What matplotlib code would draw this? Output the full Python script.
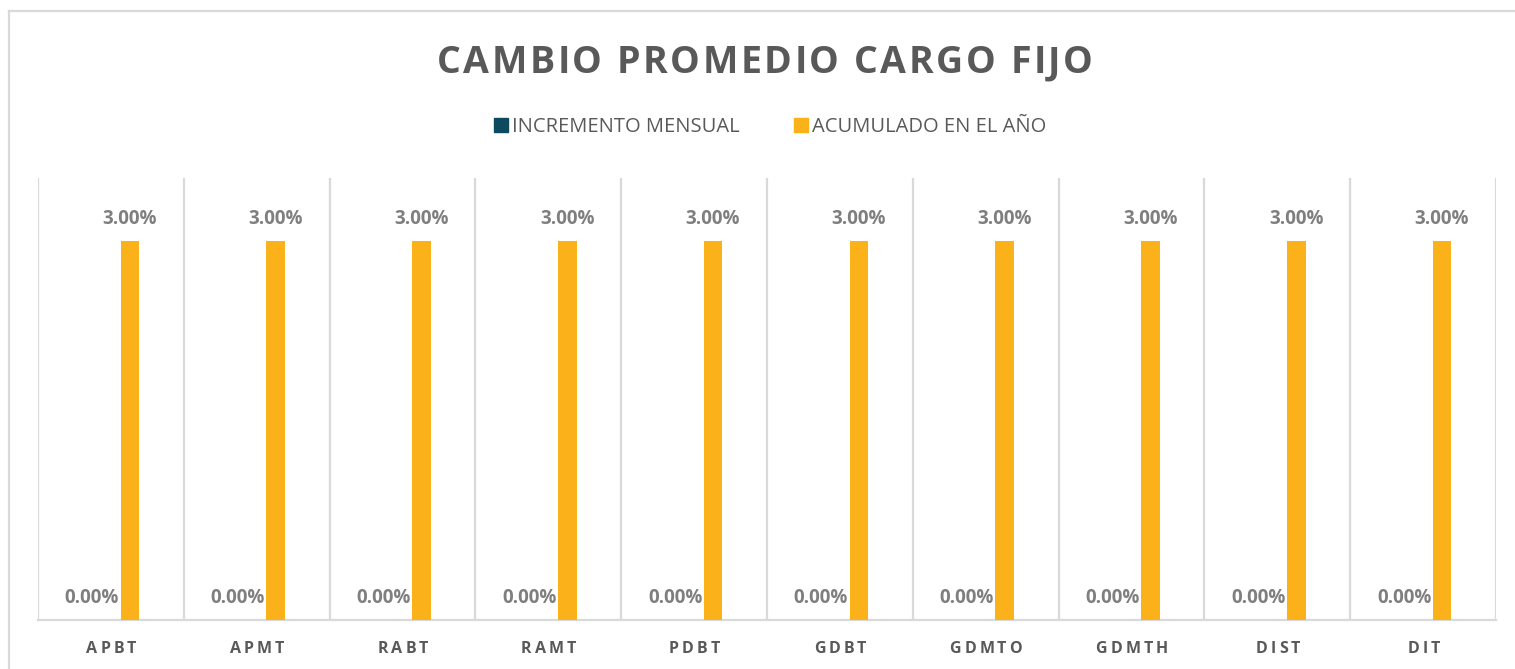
import matplotlib
matplotlib.use("Agg")
import matplotlib.pyplot as plt
from matplotlib.font_manager import FontProperties
from matplotlib.textpath import TextToPath
from matplotlib.patches import Patch
from matplotlib.lines import Line2D
import numpy as np

# ---- data ----
categories = ["APBT", "APMT", "RABT", "RAMT", "PDBT", "GDBT", "GDMTO", "GDMTH", "DIST", "DIT"]
incremento_mensual = [0.0, 0.0, 0.0, 0.0, 0.0, 0.0, 0.0, 0.0, 0.0, 0.0]
acumulado_anio = [3.0, 3.0, 3.0, 3.0, 3.0, 3.0, 3.0, 3.0, 3.0, 3.0]
series_names = ["INCREMENTO MENSUAL", "ACUMULADO EN EL AÑO"]
title_text = "CAMBIO PROMEDIO CARGO FIJO"

# ---- style ----
W, H, DPI = 1515, 669, 100
BLUE = "#0D4A5F"
ORANGE = "#FBB21A"
GRID = "#d9d9d9"
DARK = "#595959"
LABEL = "#7f7f7f"
FONT = "Open Sans"

fig = plt.figure(figsize=(W / DPI, H / DPI), dpi=DPI)
fig.patch.set_facecolor("white")

# chart border (top and left visible)
fig.add_artist(Line2D([9 / W, 9 / W], [0, 1 - 11 / H], color=GRID, lw=1.6, transform=fig.transFigure))
fig.add_artist(Line2D([9 / W, 1], [1 - 11 / H, 1 - 11 / H], color=GRID, lw=1.6, transform=fig.transFigure))

ax = fig.add_axes([38 / W, 49 / H, (1496 - 38) / W, (620 - 178) / H])
x = np.arange(len(categories))
bw = 0.128
off = 0.13
b1 = ax.bar(x - off, incremento_mensual, bw, color=BLUE, zorder=3)
b2 = ax.bar(x + off, acumulado_anio, bw, color=ORANGE, zorder=3)
ax.set_xlim(-0.5, len(categories) - 0.5)
ax.set_ylim(0, 3.5)

for s in ["top", "left", "right"]:
    ax.spines[s].set_visible(False)
ax.spines["bottom"].set_color(GRID)
ax.spines["bottom"].set_linewidth(1.6)
ax.set_yticks([])
ax.set_xticks([])
ax.set_xticks(np.arange(-0.5, len(categories)), minor=True)
ax.tick_params(which="both", length=0, labelbottom=False)
ax.grid(which="minor", axis="x", color=GRID, lw=1.6, zorder=0)
ax.set_axisbelow(True)

lab_fp = dict(family=FONT, weight="bold", size=13.5, color=LABEL)
for rects, vals in [(b1, incremento_mensual), (b2, acumulado_anio)]:
    for r, v in zip(rects, vals):
        ax.annotate(f"{v:.2f}%", (r.get_x() + r.get_width() / 2, v),
                    xytext=(0, 16), textcoords="offset points",
                    ha="center", va="center", **lab_fp)

# ---- letter-spaced text helper ----
ttp = TextToPath()


def char_adv(c, fp):
    base = ttp.get_text_width_height_descent("nn", fp, ismath=False)[0]
    w = ttp.get_text_width_height_descent("n" + c + "n", fp, ismath=False)[0]
    return (w - base) * DPI / 72.0


def spaced_text(xc, y_base, s, fp, spacing=None, target=None, color=DARK):
    widths = [char_adv(c, fp) for c in s]
    nat = sum(widths)
    if target is not None:
        spacing = (target - nat) / (len(s) - 1)
    total = nat + spacing * (len(s) - 1)
    xs = xc - total / 2
    for c, w in zip(s, widths):
        if c != " ":
            fig.text((xs + w / 2) / W, 1 - y_base / H, c, fontproperties=fp,
                     ha="center", va="baseline", color=color)
        xs += w + spacing


title_fp = FontProperties(family=FONT, weight="bold", size=27)
spaced_text(765, 73, title_text, title_fp, target=656)

cat_fp = FontProperties(family=FONT, weight="bold", size=11.5)
for i, c in enumerate(categories):
    xc = ax.transData.transform((i, 0))[0]
    spaced_text(xc, 653, c, cat_fp, spacing=3.2)

# ---- legend ----
handles = [Patch(color=BLUE), Patch(color=ORANGE)]
fig.legend(handles, series_names, loc="center", bbox_to_anchor=(770 / W, 1 - 127 / H),
           ncol=2, frameon=False, handlelength=0.7, handleheight=0.7,
           handletextpad=0.2, columnspacing=2.7,
           prop=FontProperties(family=FONT, size=14.5), labelcolor=DARK)

fig.savefig("out.png", dpi=DPI, facecolor="white")
